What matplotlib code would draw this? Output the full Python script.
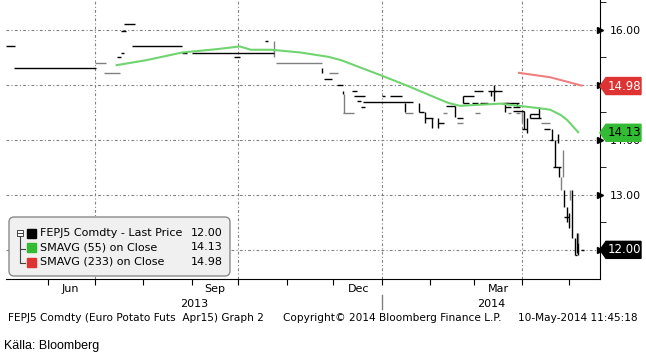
import matplotlib
matplotlib.use('Agg')
import matplotlib.pyplot as plt
import matplotlib.dates as mdates
from matplotlib.patches import Polygon, Rectangle, FancyBboxPatch

# price bars: horizontal levels (start, end, price)
bar_start = ['2013-05-05', '2013-05-10', '2013-07-15', '2013-07-18', '2013-07-18', '2013-07-20',
             '2013-07-25', '2013-08-26', '2013-09-01', '2013-09-28', '2013-10-18', '2013-11-25',
             '2013-12-03', '2013-12-13', '2013-12-14', '2013-12-16', '2013-12-19', '2013-12-20',
             '2014-01-01', '2014-01-06', '2014-01-25', '2014-01-29', '2014-02-06', '2014-02-11',
             '2014-02-18', '2014-02-22', '2014-02-22', '2014-02-28', '2014-03-01', '2014-03-05',
             '2014-03-10', '2014-03-14', '2014-03-19', '2014-03-21', '2014-03-22', '2014-03-26',
             '2014-03-26', '2014-04-01', '2014-04-06', '2014-04-06', '2014-04-15', '2014-04-19',
             '2014-04-21', '2014-04-28', '2014-05-05', '2014-05-09']
bar_end = ['2013-05-11', '2013-07-02', '2013-07-18', '2013-07-20', '2013-07-21', '2013-07-27',
           '2013-08-26', '2013-08-29', '2013-10-24', '2013-10-02', '2013-10-20', '2013-11-30',
           '2013-12-07', '2013-12-16', '2013-12-21', '2013-12-19', '2013-12-21', '2014-01-21',
           '2014-01-03', '2014-01-14', '2014-01-28', '2014-02-03', '2014-02-10', '2014-02-17',
           '2014-02-22', '2014-03-01', '2014-02-26', '2014-03-04', '2014-03-07', '2014-03-10',
           '2014-03-15', '2014-03-19', '2014-03-23', '2014-03-25', '2014-03-30', '2014-03-31',
           '2014-04-02', '2014-04-04', '2014-04-13', '2014-04-12', '2014-04-19', '2014-04-21',
           '2014-04-26', '2014-05-01', '2014-05-06', '2014-05-11']
bar_price = [15.71, 15.30, 15.50, 15.59, 15.99, 16.10,
             15.71, 15.59, 15.59, 15.50, 15.80, 15.10,
             15.00, 14.89, 14.80, 14.70, 14.60, 14.69,
             14.80, 14.80, 14.50, 14.39, 14.31, 14.61,
             14.40, 14.80, 14.68, 14.68, 14.89, 14.68,
             14.89, 14.89, 14.68, 14.60, 14.68, 14.60,
             14.53, 14.20, 14.39, 14.47, 14.20, 14.00,
             13.51, 12.60, 11.91, 12.00]

# price bars: vertical moves (date, low, high)
move_date = ['2013-11-24', '2013-12-07', '2014-01-16', '2014-01-25', '2014-01-29', '2014-02-02',
             '2014-02-06', '2014-02-17', '2014-02-22', '2014-03-12', '2014-03-14', '2014-03-21',
             '2014-03-29', '2014-04-02', '2014-04-04', '2014-04-06', '2014-04-12', '2014-04-20',
             '2014-04-22', '2014-04-24', '2014-04-25', '2014-04-28', '2014-04-30', '2014-05-01',
             '2014-05-03', '2014-05-05', '2014-05-06', '2014-05-07']
move_low = [15.21, 14.84, 14.50, 14.50, 14.31, 14.22, 14.22, 14.42, 14.68, 14.80, 14.71, 14.50,
            14.60, 14.20, 14.13, 14.39, 14.39, 14.00, 13.51, 13.95, 13.33, 12.78, 12.51, 12.40,
            12.22, 11.91, 11.95, 11.91]
move_high = [15.30, 14.89, 14.68, 14.68, 14.50, 14.39, 14.40, 14.61, 14.80, 14.89, 15.00, 14.68,
             14.68, 14.53, 14.39, 14.47, 14.60, 14.20, 14.00, 14.11, 13.51, 13.09, 12.78, 12.67,
             13.09, 12.22, 12.31, 12.13]

# grey (previous close) levels and moves
prev_start = ['2013-07-01', '2013-07-07', '2013-10-25', '2013-11-28', '2013-12-07', '2014-01-16',
              '2014-02-09', '2014-02-18', '2014-03-02', '2014-03-23', '2014-03-28', '2014-04-13']
prev_end = ['2013-07-08', '2013-07-17', '2013-11-24', '2013-12-04', '2013-12-14', '2014-01-21',
            '2014-02-12', '2014-02-22', '2014-03-05', '2014-03-25', '2014-03-31', '2014-04-19']
prev_price = [15.39, 15.21, 15.39, 15.21, 14.49, 14.49, 14.49, 14.31, 14.49, 14.49, 14.49, 14.31]
prev_move_date = ['2013-10-24', '2013-12-08', '2014-04-01', '2014-04-27', '2014-04-26',
                  '2014-05-02', '2014-05-07']
prev_move_low = [15.50, 14.49, 14.31, 13.33, 13.09, 12.91, 12.13]
prev_move_high = [15.80, 14.84, 14.53, 13.82, 13.33, 13.09, 12.31]

# moving averages
sma55_dates = ['2013-07-15', '2013-08-03', '2013-08-26', '2013-09-17', '2013-10-02', '2013-10-09',
               '2013-10-22', '2013-11-10', '2013-11-28', '2013-12-06', '2013-12-31', '2014-01-17',
               '2014-02-12', '2014-02-20', '2014-03-18', '2014-04-11', '2014-04-19', '2014-04-26',
               '2014-04-30', '2014-05-07']
sma55 = [15.36, 15.45, 15.59, 15.65, 15.70, 15.64, 15.64, 15.59, 15.51, 15.45, 15.18, 14.99,
         14.68, 14.62, 14.66, 14.58, 14.55, 14.45, 14.36, 14.14]
sma233_dates = ['2014-03-30', '2014-04-19', '2014-05-09']
sma233 = [15.22, 15.14, 14.99]

legend_names = ['FEPJ5 Comdty - Last Price', 'SMAVG (55) on Close', 'SMAVG (233) on Close']
legend_values = ['12.00', '14.13', '14.98']
last_values = [12.00, 14.13, 14.98]
y_ticks = [12, 13, 14, 15, 16]
y_tick_labels = ['', '13.00', '14.00', '', '16.00']   # 12.00 and 15.00 sit under the value tags
month_labels = ['Jun', 'Sep', 'Dec', 'Mar']
month_label_dates = ['2013-06-15', '2013-09-16', '2013-12-17', '2014-03-17']
years = ['2013', '2014']

BLACK = '#000000'
GREEN = '#33bb33'
RED = '#dd3333'
FONT = 'DejaVu Sans'

W, H = 646, 356
fig = plt.figure(figsize=(W / 100, H / 100), dpi=100)
ax = fig.add_axes([6 / W, 1 - 279 / H, 594 / W, 279 / H])

d = mdates.datestr2num
x0, x1 = d('2013-05-05'), d('2014-05-21')
ax.set_xlim(x0, x1)
ax.set_ylim(11.47, 16.545)

# grid
grid_dates = ['2013-07-01', '2013-10-01', '2014-01-01', '2014-04-01']
for g in grid_dates:
    ax.axvline(d(g), color='#808080', lw=0.8, ls=(0, (2.5, 2, 1, 2)), zorder=0)
for yv in y_ticks:
    ax.axhline(yv, color='#808080', lw=0.8, ls=(0, (2.5, 2, 1, 2)), zorder=0)

# price bars
ax.hlines(prev_price, [d(s) for s in prev_start], [d(s) for s in prev_end], color='#808080', lw=1)
ax.vlines([d(s) for s in prev_move_date], prev_move_low, prev_move_high, color='#808080', lw=1)
ax.hlines(bar_price, [d(s) for s in bar_start], [d(s) for s in bar_end], color=BLACK, lw=1)
ax.vlines([d(s) for s in move_date], move_low, move_high, color=BLACK, lw=1)

# averages
ax.plot([d(s) for s in sma55_dates], sma55, color='#70d470', lw=1.5)
ax.plot([d(s) for s in sma233_dates], sma233, color='#ee8080', lw=1.5)

# spines
for s in ['top', 'left']:
    ax.spines[s].set_visible(False)

# right axis
ax.yaxis.tick_right()
ax.set_yticks(y_ticks)
ax.set_yticklabels(y_tick_labels, fontsize=7.8, family=FONT)
ax.set_yticks([12.5, 13.5, 14.5, 15.5, 16.5], minor=True)
ax.tick_params(axis='y', which='major', length=0, pad=7)
ax.tick_params(axis='y', which='minor', length=4, direction='out')
ytr = ax.get_yaxis_transform()
ax.plot([1.0] * len(y_ticks), y_ticks, ls='none', marker='>', ms=4, color=BLACK,
        transform=ytr, clip_on=False)

# bottom axis
month_starts = ['2013-06-01', '2013-07-01', '2013-08-01', '2013-09-01', '2013-10-01',
                '2013-11-01', '2013-12-01', '2014-01-01', '2014-02-01', '2014-03-01',
                '2014-04-01', '2014-05-01']
ax.set_xticks([d(s) for s in month_starts])
ax.set_xticklabels([])
ax.tick_params(axis='x', length=4, direction='out')
xtr = ax.get_xaxis_transform()
for lab, ds in zip(month_labels, month_label_dates):
    ax.text(d(ds), -0.035, lab, transform=xtr, ha='center', va='center', fontsize=8, family=FONT)
jan = d('2014-01-01')
ax.text((x0 + jan) / 2, -0.088, years[0], transform=xtr, ha='center', va='center', fontsize=8, family=FONT)
ax.text((jan + x1) / 2, -0.088, years[1], transform=xtr, ha='center', va='center', fontsize=8, family=FONT)
ax.plot([jan, jan], [-0.057, -0.108], transform=xtr, color='#808080', lw=1, clip_on=False)

# last value tags
px = 1 / 594
py = 1 / 55
tag_colors = [BLACK, GREEN, RED]
tag_text = ['white', 'black', 'white']
for val, lab, fc, tc in zip(last_values, legend_values, tag_colors, tag_text):
    pts = [(1.0, val), (1 + 6 * px, val - 8.5 * py), (1 + 41 * px, val - 8.5 * py),
           (1 + 41 * px, val + 8.5 * py), (1 + 6 * px, val + 8.5 * py)]
    ax.add_patch(Polygon(pts, closed=True, transform=ytr, facecolor=fc, edgecolor=fc,
                         clip_on=False, zorder=5))
    ax.text(1 + 24 * px, val, lab, transform=ytr, color=tc, ha='center', va='center',
            fontsize=8.5, family=FONT, zorder=6, clip_on=False)


def fx(p):
    return p / W


def fy(p):
    return 1 - p / H


# legend box
fig.patches.append(FancyBboxPatch((fx(9), fy(276)), fx(221), 59 / H,
                                  boxstyle='round,pad=0,rounding_size=0.008', mutation_aspect=W / H,
                                  facecolor='#f0f0f0', edgecolor='#8a8a8a', lw=1,
                                  transform=fig.transFigure, zorder=10))
rows = [233, 247.5, 262]
for yr, name, val, col in zip(rows, legend_names, legend_values, tag_colors):
    fig.patches.append(Rectangle((fx(27), fy(yr + 4.5)), 9 / W, 9 / H, facecolor=col,
                                 edgecolor=col, transform=fig.transFigure, zorder=11))
    fig.text(fx(40), fy(yr), name, fontsize=8, family=FONT, va='center', ha='left', zorder=12)
    fig.text(fx(223), fy(yr), val, fontsize=8, family=FONT, va='center', ha='right', zorder=12)
# tree icon
fig.patches.append(Rectangle((fx(16.5), fy(236)), 6 / W, 6 / H, facecolor='white',
                             edgecolor='#404040', lw=0.7, transform=fig.transFigure, zorder=11))
fig.lines.append(plt.Line2D([fx(17.5), fx(21.5)], [fy(233), fy(233)], color='#404040', lw=0.7,
                            transform=fig.transFigure, zorder=12))
fig.lines.append(plt.Line2D([fx(19.5), fx(19.5), fx(25)], [fy(236), fy(263), fy(263)],
                            color='#404040', lw=0.8, transform=fig.transFigure, zorder=12))
fig.lines.append(plt.Line2D([fx(19.5), fx(25)], [fy(248.5), fy(248.5)],
                            color='#404040', lw=0.8, transform=fig.transFigure, zorder=12))

# footer
fig.text(fx(8), fy(318), 'FEPJ5 Comdty (Euro Potato Futs  Apr15) Graph 2', fontsize=7.6, family=FONT,
         va='center', ha='left')
fig.text(fx(283), fy(318), 'Copyright\u00a9 2014 Bloomberg Finance L.P.', fontsize=7.6, family=FONT,
         va='center', ha='left')
fig.text(fx(638), fy(318), '10-May-2014 11:45:18', fontsize=7.6, family=FONT, va='center', ha='right')
fig.text(fx(4), fy(346), 'K\u00e4lla: Bloomberg', fontsize=9, family='Liberation Sans',
         va='center', ha='left')

fig.savefig('out.png', dpi=100)
